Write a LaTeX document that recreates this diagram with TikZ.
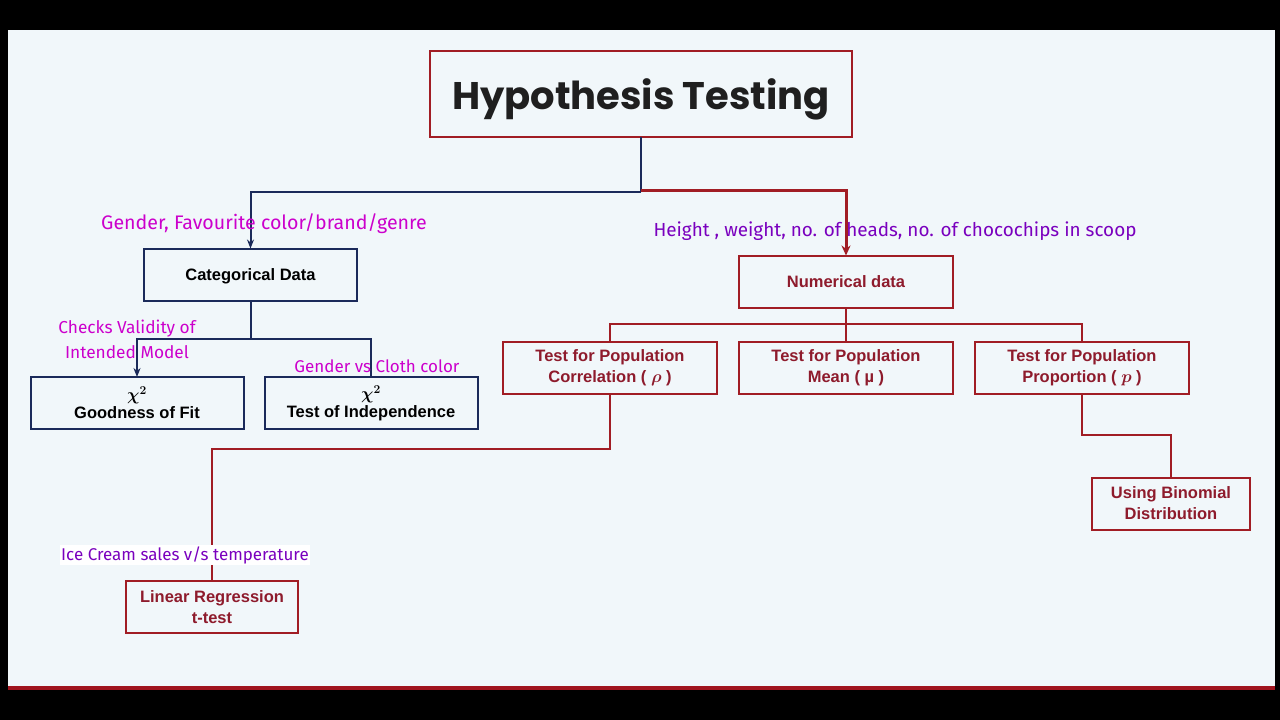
\documentclass[tikz,border=0pt]{standalone}
\usepackage{fontspec}
\usepackage{bm}
\setmainfont{Liberation Sans}
\newfontfamily\titlefont{Poppins}
\newfontfamily\handfont{Fira Sans}
\usetikzlibrary{arrows.meta}
\definecolor{bgc}{HTML}{F1F7FA}
\definecolor{navyc}{HTML}{1B2A5A}
\definecolor{redc}{HTML}{A11D24}
\definecolor{redtxt}{HTML}{8E1B2C}
\definecolor{magc}{HTML}{CC00CC}
\definecolor{purc}{HTML}{7A00BE}
\definecolor{barc}{HTML}{A0141E}
\tikzset{
  box/.style={draw, line width=2pt, fill=bgc, inner sep=0pt, outer sep=0pt, align=center},
  navybox/.style={box, draw=navyc, text=black, font=\fontsize{16.5}{21}\selectfont\bfseries, minimum width=213pt, minimum height=52pt},
  redbox/.style={box, draw=redc, text=redtxt, font=\fontsize{16.5}{21}\selectfont\bfseries, minimum width=214pt, minimum height=52pt},
  navyline/.style={draw=navyc, line width=2pt},
  redline/.style={draw=redc, line width=2pt},
  hand/.style={font=\handfont\fontsize{18}{24}\selectfont, inner sep=1pt, align=center},
}
\begin{document}
\begin{tikzpicture}[x=1pt,y=-1pt]
\fill[black] (0,0) rectangle (1280,720);
\fill[bgc] (8,30) rectangle (1275,686);
\fill[barc] (8,686) rectangle (1275,690);
\useasboundingbox (0,0) rectangle (1280,720);

% nodes
\node[box, draw=redc, minimum width=422pt, minimum height=86pt, font=\titlefont\bfseries\fontsize{38.5}{46}\selectfont, text={black!88}] (ht) at (641,94) {\raisebox{-5pt}[\height][\depth]{Hypothesis Testing}};
\node[navybox] (cat) at (250.5,274.5) {\raisebox{-2pt}[\height][\depth]{Categorical Data}};
\node[navybox] (gof) at (137,403) {$\bm{\chi}^{\bm{2}}$\\[-3pt]Goodness of Fit};
\node[navybox] (toi) at (371,403) {$\bm{\chi}^{\bm{2}}$\\[-3pt]Test of Independence};
\node[redbox] (num) at (846,281.5) {Numerical data};
\node[redbox] (cor) at (610,368) {Test for Population\\Correlation ( $\bm{\rho}$ )};
\node[redbox] (mean) at (846,368) {Test for Population\\Mean ( µ )};
\node[redbox] (prop) at (1082,368) {Test for Population\\Proportion ( $\bm{p}$ )};
\node[redbox, minimum width=172pt] (lin) at (212,607) {Linear Regression\\t-test};
\node[redbox, minimum width=158pt] (bin) at (1171,503.5) {Using Binomial\\Distribution};

% junctions
\coordinate (j1) at (641,192);
\coordinate (j2) at (641,190);
\coordinate (j3) at (250.5,339);
\coordinate (j4) at (846,324);
\coordinate (j5) at (610,449);
\coordinate (j6) at (1082,435);

% connectors
\draw[navyline] (ht.south) -- (j1);
\draw[navyline,-{Stealth[length=9pt,width=7pt]}] (j1) -| (cat.north);
\draw[redline,line width=3pt,-{Stealth[length=10pt,width=9pt]}] (j2) -| (num.north);
\draw[navyline] (cat.south) -- (j3);
\draw[navyline,-{Stealth[length=9pt,width=7pt]}] (j3) -| (gof.north);
\draw[navyline] (j3) -| (toi.north);
\draw[redline] (num.south) -- (j4);
\draw[redline] (j4) -| (cor.north);
\draw[redline] (j4) -- (mean.north);
\draw[redline] (j4) -| (prop.north);
\draw[redline] (cor.south) -- (j5) -| (lin.north);
\draw[redline] (prop.south) -- (j6) -| (bin.north);

% labels
\node[hand, text=magc, font=\handfont\fontsize{19.6}{24}\selectfont] (l1) at (264,224) {Gender, Favourite color/brand/genre};
\node[hand, text=purc, font=\handfont\fontsize{18.9}{24}\selectfont] (l2) at (895,231) {Height , weight, no. of heads, no. of chocochips in scoop};
\node[hand, text=magc, font=\handfont\fontsize{17.3}{25}\selectfont] (l3) at (127,339) {Checks Validity of\\Intended Model};
\node[hand, text=magc, font=\handfont\fontsize{17}{22}\selectfont] (l4) at (377,366) {Gender vs Cloth color};
\node[hand, text=purc, fill=white, font=\handfont\fontsize{17}{22}\selectfont] (l5) at (185,555) {Ice Cream sales v/s temperature};
\end{tikzpicture}
\end{document}
